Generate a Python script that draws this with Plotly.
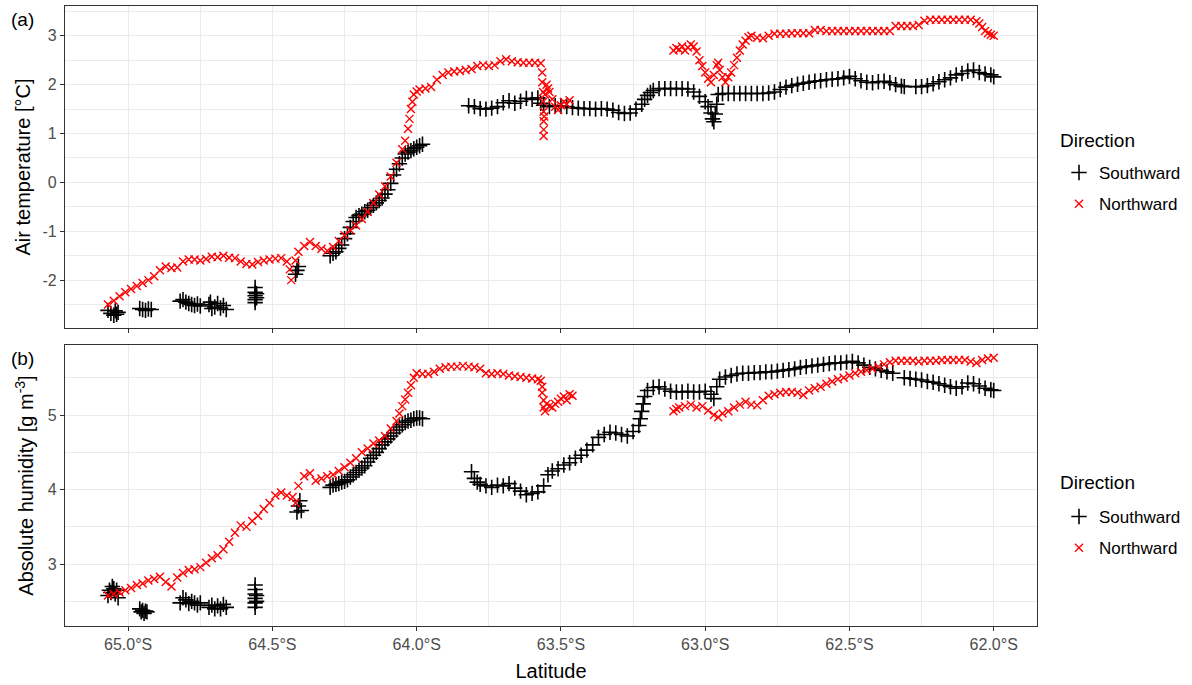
import plotly.graph_objects as go
from plotly.subplots import make_subplots

# ---------------- data ----------------
lat_ticks = [-65.0, -64.5, -64.0, -63.5, -63.0, -62.5, -62.0]
lat_tick_labels = ["65.0°S", "64.5°S", "64.0°S", "63.5°S", "63.0°S", "62.5°S", "62.0°S"]

# Air temperature, Southward (lat, degC)
ta_south = [
    (-65.07, -2.62), (-65.06, -2.68), (-65.05, -2.72), (-65.045, -2.63), (-65.04, -2.70), (-65.035, -2.66),
    (-64.96, -2.58), (-64.95, -2.60), (-64.94, -2.62), (-64.93, -2.59), (-64.92, -2.60),
    (-64.82, -2.43), (-64.81, -2.40), (-64.80, -2.45), (-64.79, -2.48), (-64.78, -2.50), (-64.77, -2.52),
    (-64.76, -2.49), (-64.75, -2.53),
    (-64.72, -2.50), (-64.715, -2.45), (-64.71, -2.58), (-64.70, -2.55), (-64.69, -2.48), (-64.68, -2.57),
    (-64.67, -2.52), (-64.66, -2.60),
    (-64.56, -2.15), (-64.56, -2.25), (-64.56, -2.32), (-64.56, -2.40), (-64.56, -2.46), (-64.555, -2.28),
    (-64.555, -2.36),
    (-64.42, -1.88), (-64.415, -1.80), (-64.41, -1.72),
    (-64.30, -1.50), (-64.29, -1.45), (-64.28, -1.42), (-64.27, -1.35), (-64.26, -1.28), (-64.25, -1.15),
    (-64.24, -1.05), (-64.23, -0.92), (-64.22, -0.80), (-64.21, -0.72),
    (-64.20, -0.68), (-64.19, -0.65), (-64.18, -0.60), (-64.17, -0.57), (-64.16, -0.52), (-64.15, -0.47),
    (-64.14, -0.42), (-64.13, -0.37), (-64.12, -0.32), (-64.11, -0.24), (-64.10, -0.15),
    (-64.09, -0.02), (-64.08, 0.15), (-64.07, 0.27), (-64.06, 0.38), (-64.05, 0.50), (-64.04, 0.58),
    (-64.03, 0.62), (-64.02, 0.65), (-64.01, 0.69), (-64.00, 0.72), (-63.99, 0.75), (-63.98, 0.78),
    (-63.82, 1.57), (-63.80, 1.55), (-63.78, 1.51), (-63.76, 1.50), (-63.74, 1.52), (-63.72, 1.55),
    (-63.70, 1.63), (-63.68, 1.67), (-63.66, 1.62), (-63.64, 1.66), (-63.62, 1.72), (-63.60, 1.70),
    (-63.58, 1.73), (-63.57, 1.62), (-63.56, 1.58), (-63.54, 1.55), (-63.52, 1.57), (-63.50, 1.56),
    (-63.48, 1.55), (-63.46, 1.53), (-63.44, 1.52), (-63.42, 1.51), (-63.40, 1.51), (-63.38, 1.50),
    (-63.36, 1.51), (-63.34, 1.50), (-63.32, 1.48), (-63.30, 1.43), (-63.28, 1.41), (-63.26, 1.42),
    (-63.24, 1.50), (-63.22, 1.60), (-63.21, 1.70), (-63.20, 1.78), (-63.19, 1.84), (-63.18, 1.88),
    (-63.16, 1.92), (-63.14, 1.92),
    (-63.12, 1.92), (-63.10, 1.92), (-63.08, 1.92), (-63.06, 1.91), (-63.04, 1.85), (-63.02, 1.76),
    (-63.00, 1.65), (-62.99, 1.55), (-62.98, 1.42), (-62.975, 1.30), (-62.97, 1.24), (-62.965, 1.40),
    (-62.96, 1.60), (-62.955, 1.80), (-62.94, 1.82), (-62.92, 1.82), (-62.90, 1.82), (-62.88, 1.82),
    (-62.86, 1.82), (-62.84, 1.82), (-62.82, 1.82), (-62.80, 1.82), (-62.78, 1.83), (-62.76, 1.85),
    (-62.74, 1.90), (-62.72, 1.95), (-62.70, 1.98), (-62.68, 2.01), (-62.66, 2.03), (-62.64, 2.05),
    (-62.62, 2.07), (-62.60, 2.08), (-62.58, 2.10), (-62.56, 2.11), (-62.54, 2.12), (-62.52, 2.14),
    (-62.50, 2.17), (-62.48, 2.12), (-62.46, 2.08), (-62.44, 2.05), (-62.42, 2.04), (-62.40, 2.06),
    (-62.38, 2.07), (-62.36, 2.04), (-62.34, 2.00), (-62.32, 1.97), (-62.31, 1.96), (-62.27, 1.96),
    (-62.25, 1.96), (-62.23, 1.98), (-62.21, 2.02), (-62.19, 2.06), (-62.17, 2.10), (-62.15, 2.14),
    (-62.13, 2.20), (-62.11, 2.23), (-62.09, 2.28), (-62.07, 2.30), (-62.05, 2.25), (-62.03, 2.22),
    (-62.01, 2.20), (-62.00, 2.16),
]

# Air temperature, Northward (lat, degC)
ta_north = [
    (-65.07, -2.50), (-65.05, -2.42), (-65.03, -2.33), (-65.01, -2.25), (-64.99, -2.18), (-64.97, -2.12),
    (-64.95, -2.06), (-64.93, -2.00), (-64.91, -1.92), (-64.89, -1.80), (-64.87, -1.72), (-64.85, -1.75),
    (-64.83, -1.74), (-64.81, -1.62), (-64.79, -1.58), (-64.77, -1.58), (-64.75, -1.60), (-64.73, -1.57),
    (-64.71, -1.52), (-64.69, -1.53), (-64.67, -1.50), (-64.65, -1.54), (-64.63, -1.55), (-64.61, -1.62),
    (-64.59, -1.67), (-64.57, -1.68), (-64.55, -1.63), (-64.53, -1.60), (-64.51, -1.58), (-64.49, -1.56),
    (-64.47, -1.55), (-64.45, -1.62), (-64.44, -1.78), (-64.435, -2.00), (-64.42, -1.60), (-64.41, -1.42),
    (-64.39, -1.30), (-64.37, -1.22), (-64.35, -1.30), (-64.33, -1.36), (-64.31, -1.40), (-64.29, -1.32),
    (-64.27, -1.20), (-64.25, -1.08), (-64.23, -0.98), (-64.21, -0.88), (-64.19, -0.75), (-64.17, -0.60),
    (-64.15, -0.42), (-64.13, -0.25), (-64.11, -0.08), (-64.09, 0.12), (-64.07, 0.40), (-64.05, 0.68),
    (-64.04, 0.85), (-64.03, 1.10), (-64.025, 1.30), (-64.02, 1.50), (-64.015, 1.65), (-64.01, 1.80),
    (-64.00, 1.86), (-63.99, 1.90), (-63.97, 1.92),
    (-63.95, 1.95), (-63.93, 2.10), (-63.91, 2.20), (-63.89, 2.25), (-63.87, 2.27), (-63.85, 2.28),
    (-63.83, 2.30), (-63.81, 2.32), (-63.79, 2.38), (-63.77, 2.40), (-63.75, 2.38), (-63.73, 2.40),
    (-63.71, 2.48), (-63.69, 2.52), (-63.67, 2.48), (-63.65, 2.46), (-63.63, 2.45), (-63.61, 2.45),
    (-63.59, 2.45), (-63.57, 2.44), (-63.565, 2.25), (-63.565, 2.05), (-63.562, 1.85), (-63.562, 1.65),
    (-63.56, 1.45), (-63.56, 1.25), (-63.56, 1.08), (-63.56, 0.95), (-63.558, 1.35),
    (-63.555, 1.80), (-63.55, 2.00), (-63.545, 1.92), (-63.54, 1.85), (-63.53, 1.70), (-63.52, 1.55),
    (-63.51, 1.48), (-63.50, 1.58), (-63.49, 1.65), (-63.48, 1.60), (-63.47, 1.68),
    (-63.11, 2.70), (-63.10, 2.75), (-63.09, 2.72), (-63.08, 2.78), (-63.07, 2.70), (-63.06, 2.76),
    (-63.05, 2.82), (-63.04, 2.78), (-63.03, 2.68), (-63.02, 2.50), (-63.01, 2.38), (-63.00, 2.25),
    (-62.99, 2.12), (-62.98, 2.05), (-62.97, 2.20), (-62.96, 2.40), (-62.955, 2.45), (-62.95, 2.30),
    (-62.94, 2.15), (-62.93, 2.05), (-62.92, 2.15), (-62.91, 2.25), (-62.90, 2.40), (-62.89, 2.55),
    (-62.88, 2.70), (-62.87, 2.82), (-62.86, 2.90), (-62.85, 2.97), (-62.84, 3.00), (-62.82, 2.96),
    (-62.80, 2.95), (-62.78, 3.00), (-62.76, 3.04), (-62.74, 3.04), (-62.72, 3.04), (-62.70, 3.05),
    (-62.68, 3.05), (-62.66, 3.05), (-62.64, 3.05), (-62.62, 3.12), (-62.60, 3.12), (-62.58, 3.10),
    (-62.56, 3.10), (-62.54, 3.10), (-62.52, 3.10), (-62.50, 3.10), (-62.48, 3.10), (-62.46, 3.10),
    (-62.44, 3.10), (-62.42, 3.10), (-62.40, 3.10), (-62.38, 3.10), (-62.36, 3.10), (-62.34, 3.20),
    (-62.32, 3.20), (-62.30, 3.20), (-62.28, 3.20), (-62.26, 3.22), (-62.24, 3.31), (-62.22, 3.33),
    (-62.20, 3.33), (-62.18, 3.33), (-62.16, 3.33), (-62.14, 3.33), (-62.12, 3.33), (-62.10, 3.33),
    (-62.08, 3.33), (-62.06, 3.30), (-62.05, 3.25), (-62.04, 3.18), (-62.03, 3.10), (-62.02, 3.05),
    (-62.01, 3.02), (-62.00, 3.00),
]

# Absolute humidity, Southward (lat, g m-3)
ah_south = [
    (-65.07, 2.58), (-65.065, 2.65), (-65.06, 2.62), (-65.055, 2.70), (-65.05, 2.67), (-65.045, 2.60),
    (-65.04, 2.65), (-65.035, 2.55),
    (-64.96, 2.40), (-64.955, 2.36), (-64.95, 2.38), (-64.945, 2.34), (-64.94, 2.37), (-64.935, 2.36),
    (-64.82, 2.48), (-64.81, 2.55), (-64.80, 2.52), (-64.79, 2.47), (-64.78, 2.50), (-64.77, 2.48),
    (-64.76, 2.45), (-64.75, 2.48),
    (-64.72, 2.42), (-64.71, 2.45), (-64.70, 2.40), (-64.69, 2.44), (-64.68, 2.40), (-64.67, 2.46),
    (-64.66, 2.42),
    (-64.56, 2.42), (-64.56, 2.48), (-64.56, 2.54), (-64.56, 2.60), (-64.56, 2.66), (-64.56, 2.72),
    (-64.555, 2.50), (-64.555, 2.58),
    (-64.415, 3.70), (-64.41, 3.78), (-64.405, 3.85), (-64.40, 3.72),
    (-64.30, 4.03), (-64.29, 4.06), (-64.28, 4.07), (-64.27, 4.08), (-64.26, 4.10), (-64.25, 4.11),
    (-64.24, 4.13), (-64.23, 4.17), (-64.22, 4.20), (-64.21, 4.23), (-64.20, 4.26), (-64.19, 4.29),
    (-64.18, 4.32), (-64.17, 4.37), (-64.16, 4.42), (-64.15, 4.46), (-64.14, 4.50), (-64.13, 4.55),
    (-64.12, 4.60), (-64.11, 4.64), (-64.10, 4.68), (-64.09, 4.72), (-64.08, 4.76), (-64.07, 4.80),
    (-64.06, 4.84), (-64.05, 4.87), (-64.04, 4.90), (-64.03, 4.92), (-64.02, 4.93), (-64.01, 4.95),
    (-64.00, 4.96), (-63.99, 4.96), (-63.98, 4.95),
    (-63.81, 4.24), (-63.80, 4.15), (-63.79, 4.10), (-63.78, 4.07), (-63.76, 4.05), (-63.74, 4.03),
    (-63.72, 4.06), (-63.70, 4.05), (-63.68, 4.08), (-63.66, 4.02), (-63.64, 3.98), (-63.62, 3.93),
    (-63.60, 3.95), (-63.58, 3.97), (-63.56, 4.05), (-63.545, 4.20), (-63.53, 4.25), (-63.51, 4.28),
    (-63.49, 4.33), (-63.47, 4.36), (-63.45, 4.42), (-63.43, 4.46), (-63.41, 4.53), (-63.39, 4.60),
    (-63.37, 4.70), (-63.35, 4.74), (-63.33, 4.77), (-63.31, 4.76), (-63.29, 4.74), (-63.27, 4.72),
    (-63.25, 4.78), (-63.23, 4.86), (-63.225, 4.95), (-63.22, 5.05), (-63.215, 5.15), (-63.21, 5.25),
    (-63.20, 5.33), (-63.18, 5.37),
    (-63.16, 5.38), (-63.14, 5.35), (-63.12, 5.32), (-63.10, 5.31), (-63.08, 5.31), (-63.06, 5.32),
    (-63.04, 5.31), (-63.02, 5.31), (-63.00, 5.32), (-62.98, 5.28), (-62.97, 5.22), (-62.96, 5.38),
    (-62.95, 5.48), (-62.93, 5.51), (-62.91, 5.53), (-62.89, 5.55), (-62.87, 5.56), (-62.85, 5.56),
    (-62.83, 5.57), (-62.81, 5.57), (-62.79, 5.58), (-62.77, 5.58), (-62.75, 5.59), (-62.73, 5.60),
    (-62.71, 5.61), (-62.69, 5.62), (-62.67, 5.64), (-62.65, 5.65), (-62.63, 5.66), (-62.61, 5.67),
    (-62.59, 5.68), (-62.57, 5.69), (-62.55, 5.70), (-62.53, 5.70), (-62.51, 5.71), (-62.49, 5.72),
    (-62.47, 5.70), (-62.45, 5.67), (-62.43, 5.64), (-62.41, 5.62), (-62.39, 5.60), (-62.37, 5.58),
    (-62.35, 5.56), (-62.31, 5.50), (-62.29, 5.49), (-62.27, 5.48), (-62.25, 5.47), (-62.23, 5.45),
    (-62.21, 5.44), (-62.19, 5.42), (-62.17, 5.40), (-62.15, 5.38), (-62.13, 5.36), (-62.11, 5.38),
    (-62.09, 5.43), (-62.07, 5.42), (-62.05, 5.39), (-62.03, 5.36), (-62.01, 5.34), (-62.00, 5.33),
]

# Absolute humidity, Northward (lat, g m-3)
ah_north = [
    (-65.07, 2.58), (-65.05, 2.60), (-65.03, 2.62), (-65.01, 2.65), (-64.99, 2.68), (-64.97, 2.72),
    (-64.95, 2.74), (-64.93, 2.78), (-64.91, 2.80), (-64.89, 2.83), (-64.87, 2.76), (-64.85, 2.70),
    (-64.83, 2.82), (-64.81, 2.88), (-64.79, 2.92), (-64.77, 2.93), (-64.75, 2.96), (-64.73, 3.02),
    (-64.71, 3.08), (-64.69, 3.12), (-64.67, 3.20), (-64.65, 3.30), (-64.63, 3.42), (-64.61, 3.52),
    (-64.59, 3.50), (-64.57, 3.58), (-64.55, 3.65), (-64.53, 3.74), (-64.51, 3.82), (-64.49, 3.92),
    (-64.47, 3.96), (-64.45, 3.92), (-64.43, 3.90), (-64.42, 3.82), (-64.41, 4.05), (-64.39, 4.18),
    (-64.37, 4.22), (-64.35, 4.12), (-64.33, 4.15), (-64.31, 4.18), (-64.29, 4.20), (-64.27, 4.25),
    (-64.25, 4.30), (-64.23, 4.36), (-64.21, 4.42), (-64.19, 4.50), (-64.17, 4.55), (-64.15, 4.62),
    (-64.13, 4.66), (-64.11, 4.72), (-64.09, 4.82), (-64.07, 4.92), (-64.06, 5.02), (-64.05, 5.12),
    (-64.04, 5.21), (-64.03, 5.30), (-64.02, 5.40), (-64.01, 5.50), (-64.00, 5.56), (-63.98, 5.55),
    (-63.96, 5.55), (-63.94, 5.58), (-63.92, 5.62),
    (-63.90, 5.64), (-63.88, 5.65), (-63.86, 5.65), (-63.84, 5.66), (-63.82, 5.65), (-63.80, 5.64),
    (-63.78, 5.62), (-63.76, 5.56), (-63.74, 5.55), (-63.72, 5.56), (-63.70, 5.55), (-63.68, 5.53),
    (-63.66, 5.52), (-63.64, 5.51), (-63.62, 5.50), (-63.60, 5.49), (-63.58, 5.48), (-63.57, 5.46),
    (-63.565, 5.38), (-63.565, 5.30), (-63.56, 5.20), (-63.56, 5.10), (-63.555, 5.05), (-63.55, 5.15),
    (-63.54, 5.12), (-63.53, 5.10),
    (-63.52, 5.15), (-63.51, 5.18), (-63.50, 5.22), (-63.49, 5.25), (-63.48, 5.20), (-63.47, 5.28),
    (-63.46, 5.26),
    (-63.11, 5.05), (-63.10, 5.08), (-63.09, 5.10), (-63.07, 5.12), (-63.05, 5.14), (-63.03, 5.10),
    (-63.01, 5.12), (-62.99, 5.06), (-62.97, 5.00), (-62.955, 4.97), (-62.94, 5.02), (-62.92, 5.05),
    (-62.90, 5.10), (-62.88, 5.14), (-62.86, 5.18), (-62.84, 5.14), (-62.82, 5.13), (-62.80, 5.20),
    (-62.78, 5.26), (-62.76, 5.28), (-62.74, 5.30), (-62.72, 5.31), (-62.70, 5.31), (-62.68, 5.30),
    (-62.66, 5.27), (-62.64, 5.33), (-62.62, 5.36), (-62.60, 5.38), (-62.58, 5.42), (-62.56, 5.45),
    (-62.54, 5.48), (-62.52, 5.50), (-62.50, 5.53), (-62.48, 5.56), (-62.46, 5.58), (-62.44, 5.60),
    (-62.42, 5.62), (-62.40, 5.65), (-62.38, 5.68), (-62.36, 5.71), (-62.34, 5.73), (-62.32, 5.73),
    (-62.30, 5.73), (-62.28, 5.73), (-62.26, 5.72), (-62.24, 5.73), (-62.22, 5.73), (-62.20, 5.73),
    (-62.18, 5.74), (-62.16, 5.74), (-62.14, 5.74), (-62.12, 5.74), (-62.10, 5.74), (-62.08, 5.72),
    (-62.06, 5.70), (-62.04, 5.74), (-62.02, 5.76), (-62.00, 5.77),
]

# ---------------- figure ----------------
W, H = 1192, 685
L, R, T, B = 65, 1037, 6, 626          # pixel box of the whole plotting region
PW, PH = R - L, B - T

def py2paper(py):
    return (B - py) / PH

def px2paper(px):
    return (px - L) / PW

FONT = "Liberation Sans, Arial, sans-serif"
BLACK = "#000000"
RED = "#FF0000"
GRID = "#EBEBEB"
AX = "#333333"
TICKTXT = "#4D4D4D"
TICK_SIZE = 16
AXTITLE_SIZE = 20

fig = make_subplots(rows=2, cols=1, shared_xaxes=False, vertical_spacing=0.02)


def add_series(data, row, name, color, symbol, size, lw, legend, group):
    xs = [p[0] for p in data]
    ys = [p[1] for p in data]
    fig.add_trace(go.Scatter(
        x=xs, y=ys, mode="markers", name=name,
        marker=dict(symbol=symbol, size=size, color=color,
                    line=dict(color=color, width=lw)),
        legend=legend, legendgroup=group, showlegend=True,
    ), row=row, col=1)


add_series(ta_south, 1, "Southward", BLACK, "cross-thin", 11, 1.6, "legend", "s1")
add_series(ta_north, 1, "Northward", RED, "x-thin", 8, 1.4, "legend", "n1")
add_series(ah_south, 2, "Southward", BLACK, "cross-thin", 11, 1.6, "legend2", "s2")
add_series(ah_north, 2, "Northward", RED, "x-thin", 8, 1.4, "legend2", "n2")

x_range = [-65.219, -61.85]
minor_x = [-64.75, -64.25, -63.75, -63.25, -62.75, -62.25]

common_x = dict(
    range=x_range, tickmode="array", tickvals=lat_ticks,
    showgrid=True, gridcolor=GRID, gridwidth=1.1, zeroline=False,
    showline=True, mirror=True, linecolor=AX, linewidth=1.1,
    ticks="outside", ticklen=4, tickcolor=AX, tickwidth=1.1,
    minor=dict(tickvals=minor_x, showgrid=True, gridcolor=GRID, gridwidth=0.6, ticks=""),
    tickfont=dict(family=FONT, size=TICK_SIZE, color=TICKTXT),
    automargin=False,
)
common_y = dict(
    showgrid=True, gridcolor=GRID, gridwidth=1.1, zeroline=False,
    showline=True, mirror=True, linecolor=AX, linewidth=1.1,
    ticks="outside", ticklen=4, tickcolor=AX, tickwidth=1.1,
    tickfont=dict(family=FONT, size=TICK_SIZE, color=TICKTXT),
    automargin=False,
)

fig.update_xaxes(**common_x, showticklabels=False, row=1, col=1)
fig.update_xaxes(**common_x, ticktext=lat_tick_labels, showticklabels=True,
                 title=dict(text="Latitude", font=dict(family=FONT, size=AXTITLE_SIZE, color=BLACK),
                            standoff=11),
                 row=2, col=1)

fig.update_yaxes(**common_y, range=[-2.98, 3.61], tickvals=[-2, -1, 0, 1, 2, 3],
                 ticktext=["-2", "-1", "0", "1", "2", "3"],
                 minor=dict(tickvals=[-2.5, -1.5, -0.5, 0.5, 1.5, 2.5, 3.5], showgrid=True,
                            gridcolor=GRID, gridwidth=0.6, ticks=""),
                 title=dict(text="Air temperature [°C]",
                            font=dict(family=FONT, size=AXTITLE_SIZE, color=BLACK), standoff=6),
                 row=1, col=1)
fig.update_yaxes(**common_y, range=[2.17, 5.94], tickvals=[3, 4, 5], ticktext=["3", "4", "5"],
                 minor=dict(tickvals=[2.5, 3.5, 4.5, 5.5], showgrid=True,
                            gridcolor=GRID, gridwidth=0.6, ticks=""),
                 title=dict(text="Absolute humidity [g m<sup>-3</sup>]",
                            font=dict(family=FONT, size=AXTITLE_SIZE, color=BLACK), standoff=8),
                 row=2, col=1)

# exact panel domains
fig.update_layout(
    xaxis=dict(domain=[0, 1]),
    xaxis2=dict(domain=[0, 1]),
    yaxis=dict(domain=[py2paper(328), 1.0]),
    yaxis2=dict(domain=[0.0, py2paper(345)]),
)

legend_common = dict(
    xanchor="left", yanchor="top", bgcolor="rgba(0,0,0,0)",
    font=dict(family=FONT, size=17, color=BLACK),
    traceorder="grouped", tracegroupgap=6, itemwidth=30,
)


def title_note(text, px, py, size):
    return dict(text=text, x=px2paper(px), y=py2paper(py), xref="paper", yref="paper",
                xanchor="left", yanchor="middle", showarrow=False,
                font=dict(family=FONT, size=size, color=BLACK))


fig.update_layout(
    width=W, height=H,
    margin=dict(l=L, r=W - R, t=T, b=H - B, pad=0, autoexpand=False),
    paper_bgcolor="white", plot_bgcolor="white",
    font=dict(family=FONT),
    legend=dict(**legend_common, x=px2paper(1059), y=py2paper(155)),
    legend2=dict(**legend_common, x=px2paper(1059), y=py2paper(499)),
    annotations=[
        title_note("(a)", 9, 19, 19),
        title_note("(b)", 9, 358, 19),
        title_note("Direction", 1058, 140, 19),
        title_note("Direction", 1058, 482, 19),
    ],
)

fig.write_html("out.html", post_script="document.body.style.margin='0px';",
               config={"displayModeBar": False})
